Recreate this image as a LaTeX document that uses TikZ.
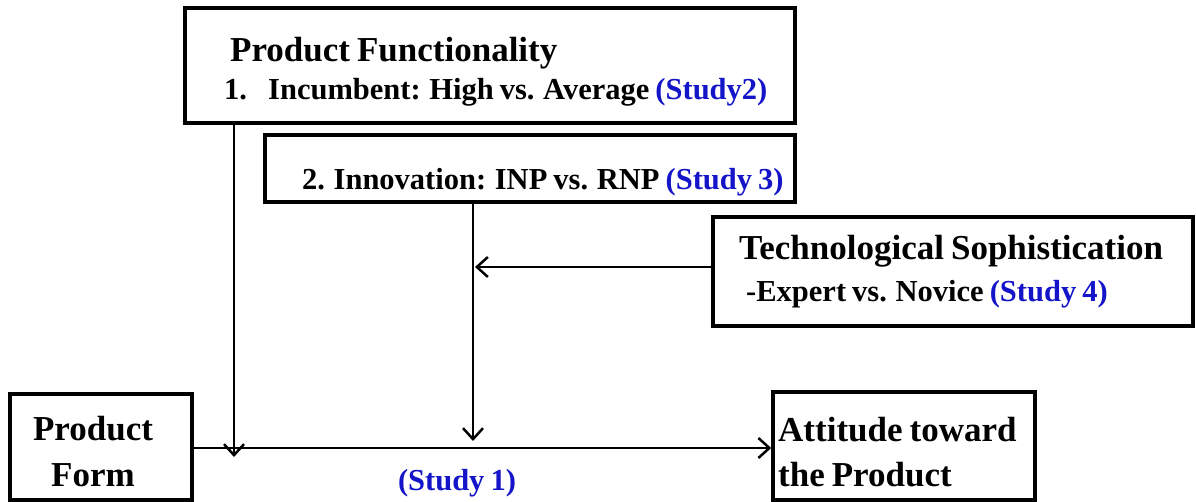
\documentclass[tikz,border=0pt]{standalone}
\usepackage{fontspec}
\setmainfont{Liberation Serif}
\usetikzlibrary{arrows.meta}
\definecolor{studyblue}{RGB}{20,20,200}
\newcommand{\stdy}[1]{\textcolor{studyblue}{#1}}
\newcommand{\tightsp}{\spaceskip=0.2em plus 0.05em minus 0.02em\relax}
\begin{document}
\begin{tikzpicture}[x=1pt,y=-1pt,
  box/.style={draw=black, line width=3.5pt, inner sep=0pt},
  lbl/.style={inner sep=0pt, anchor=base west},
  big/.style={font=\fontsize{35}{40}\selectfont\bfseries\tightsp},
  mid/.style={font=\fontsize{30.5}{36}\selectfont\bfseries\tightsp},
  arr/.style={line width=2.5pt, -{Straight Barb[length=11pt,width=20pt,line width=2.5pt]}}]
\useasboundingbox (0,0) rectangle (1196,502);
% boxes
\node[box, minimum width=610pt, minimum height=115pt] (pf) at (490,65.5) {};
\node[box, minimum width=530pt, minimum height=67pt] (inn) at (530,168.5) {};
\node[box, minimum width=480pt, minimum height=109pt] (tech) at (953,271.5) {};
\node[box, minimum width=182pt, minimum height=106pt] (form) at (101,447) {};
\node[box, minimum width=262pt, minimum height=108pt] (att) at (904,446) {};
% texts
\node[lbl, big] (pft) at (230,62) {Product Functionality};
\node[lbl, mid] (pfa) at (224,100) {1.};
\node[lbl, mid] (pfb) at (268,100) {Incumbent: High vs. Average \stdy{(Study2)}};
\node[lbl, mid] (innt) at (302,190) {2. Innovation: INP vs. RNP \stdy{(Study 3)}};
\node[lbl, big] (techt) at (739,260) {Technological Sophistication};
\node[lbl, mid] (techb) at (746,302) {-Expert vs. Novice \stdy{(Study 4)}};
\node[lbl, big, anchor=base] (formt) at (93,440) {Product};
\node[lbl, big, anchor=base] (formb) at (93,486) {Form};
\node[lbl, big] (attt) at (778,441) {Attitude toward};
\node[lbl, big] (attb) at (778,486) {the Product};
\node[lbl, mid, anchor=base, text=studyblue] (s1) at (457,490) {(Study 1)};
% connector ends
\coordinate (m1) at (234,457);
\coordinate (m2) at (473,441);
\coordinate (m3) at (475,267);
\coordinate (ml) at (0,448);
% connectors
\draw[arr] (form.east |- ml) -- (att.west |- ml);
\draw[arr] (pf.south -| m1) -- (m1);
\draw[arr] (inn.south -| m2) -- (m2);
\draw[arr] (tech.west |- m3) -- (m3);
\end{tikzpicture}
\end{document}
